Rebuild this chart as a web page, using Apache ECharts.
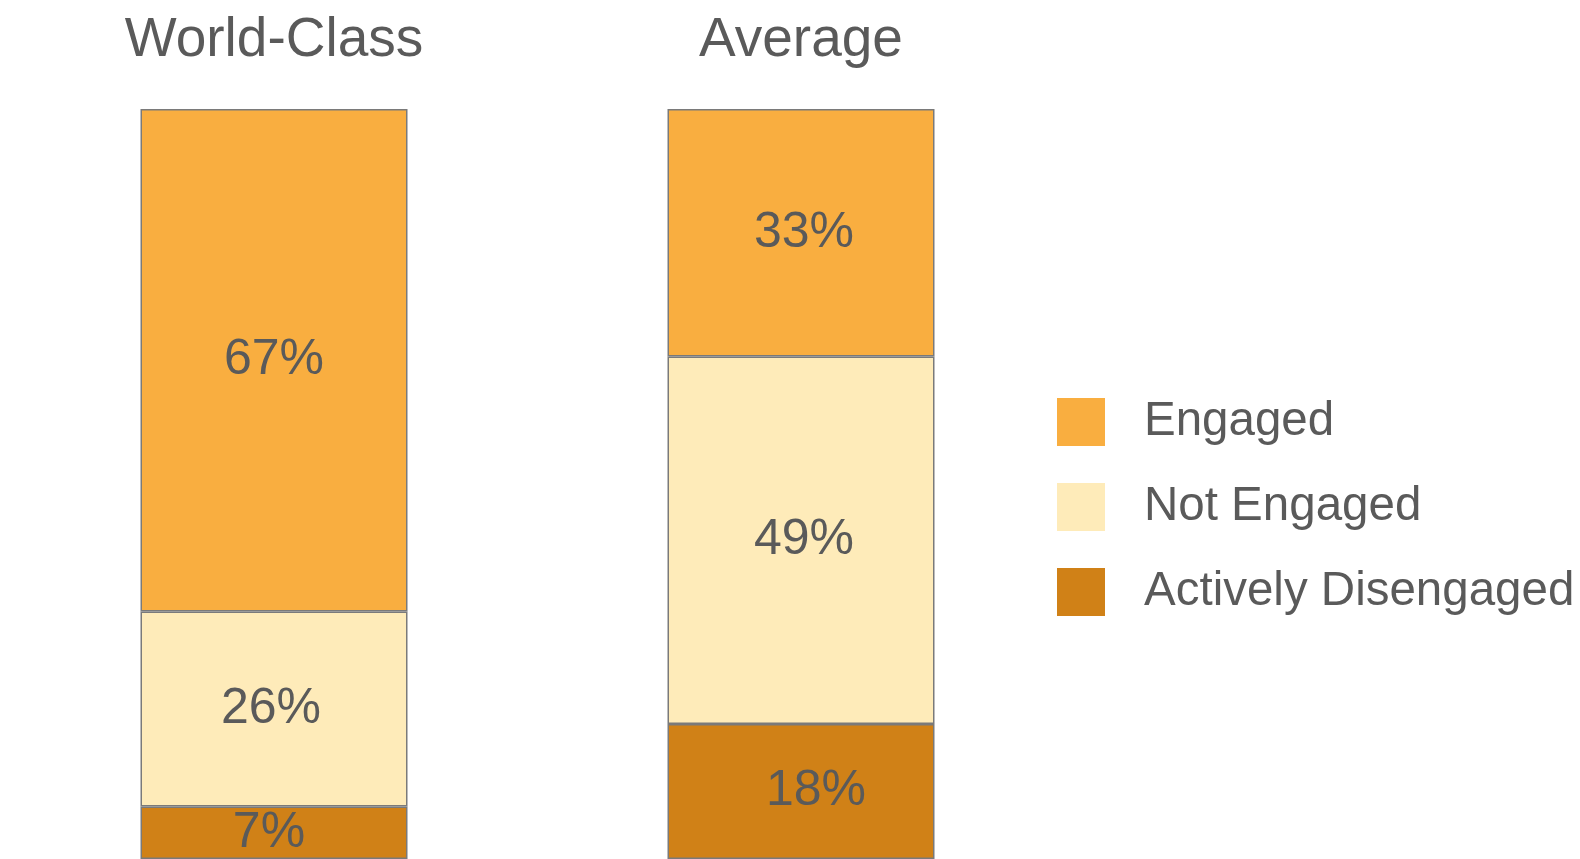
<!DOCTYPE html>
<html>
<head>
<meta charset="utf-8">
<script src="https://cdn.jsdelivr.net/npm/echarts@6/dist/echarts.min.js"></script>
<style>
  html, body { margin: 0; padding: 0; background: #ffffff; }
  #chart { width: 1580px; height: 859px; }
</style>
</head>
<body>
<div id="chart"></div>
<script>
const categories = ['World-Class', 'Average'];
const seriesNames = ['Engaged', 'Not Engaged', 'Actively Disengaged'];
const engaged = [67, 33];
const notEngaged = [26, 49];
const activelyDisengaged = [7, 18];

const colors = {
  'Engaged': '#F9AE40',
  'Not Engaged': '#FEEBB9',
  'Actively Disengaged': '#D08117'
};
// small horizontal nudges of individual labels, as in the original
const labelNudge = {
  'Engaged': [0, 3],
  'Not Engaged': [-3, 3],
  'Actively Disengaged': [-5, 15]
};
const textColor = '#5a5a5a';
const font = 'Liberation Sans, Arial, Helvetica, sans-serif';

function barSeries(name, data) {
  return {
    name: name,
    type: 'bar',
    stack: 'total',
    barWidth: 267,
    data: data.map((v, i) => ({ value: v, label: { offset: [labelNudge[name][i], 0] } })),
    itemStyle: { color: colors[name], borderColor: '#7a7a7a', borderWidth: 1.5 },
    label: {
      show: true,
      position: 'inside',
      formatter: '{c}%',
      color: textColor,
      fontFamily: font,
      fontSize: 50
    },
    emphasis: { disabled: true }
  };
}

const chart = echarts.init(document.getElementById('chart'), null, { renderer: 'canvas' });
chart.setOption({
  animation: false,
  backgroundColor: '#ffffff',
  grid: { left: 10.5, right: 515.5, top: 109, bottom: 0, containLabel: false, outerBoundsMode: 'none' },
  xAxis: {
    type: 'category',
    data: categories,
    position: 'top',
    axisLine: { show: false },
    axisTick: { show: false },
    axisLabel: { color: textColor, fontFamily: font, fontSize: 55, margin: 41 }
  },
  yAxis: { type: 'value', min: 0, max: 100, show: false },
  legend: {
    orient: 'vertical',
    left: 1052,
    top: 393,
    itemWidth: 48,
    itemHeight: 48,
    itemGap: 37,
    icon: 'rect',
    itemStyle: { borderWidth: 0 },
    data: seriesNames,
    textStyle: { color: textColor, fontFamily: font, fontSize: 47.5, padding: [0, 0, 0, 34] }
  },
  series: [
    barSeries('Actively Disengaged', activelyDisengaged),
    barSeries('Not Engaged', notEngaged),
    barSeries('Engaged', engaged)
  ]
});
</script>
</body>
</html>
